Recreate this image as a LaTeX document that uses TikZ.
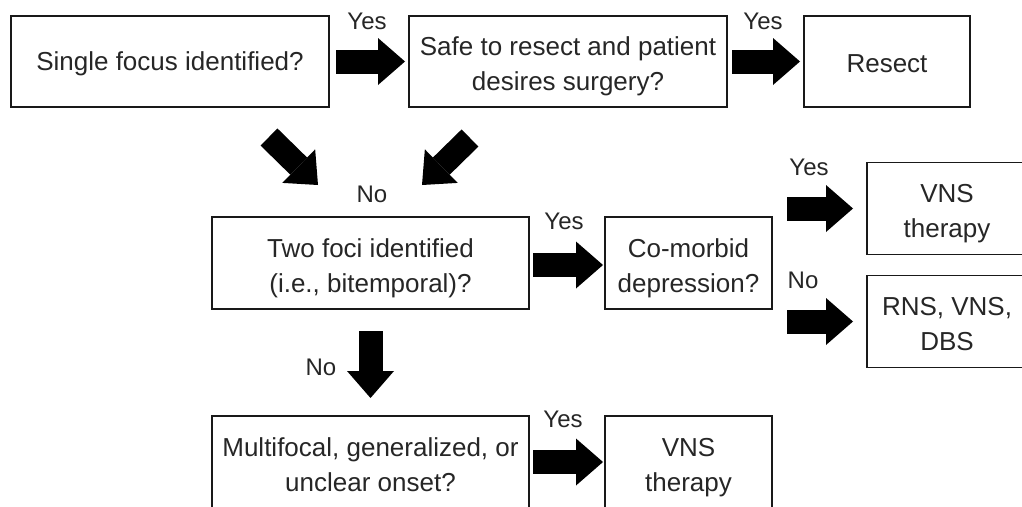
\documentclass[tikz,border=0pt]{standalone}
\usepackage{fontspec}
\setmainfont{Liberation Sans}
\usetikzlibrary{arrows.meta}
\begin{document}
\begin{tikzpicture}[x=1pt,y=-1pt,
  box/.style={draw=black!90, line width=1.8pt, outer sep=0pt, inner sep=0pt,
    align=center, font=\fontsize{26}{35}\selectfont, text=black!85},
  onel/.style={box, text height=23pt},
  twol/.style={box, text height=58pt, text depth=0pt},
  lbl/.style={font=\fontsize{24}{28}\selectfont, text=black!85, inner sep=0pt},
  bigarr/.style={black, line width=24pt,
    -{Triangle[length=27pt,width=47pt,line width=0pt]}}]
\useasboundingbox (0,0) rectangle (1022,506);
\clip (0,0) rectangle (1022,506);

% boxes
\node[onel, minimum width=318pt, minimum height=91pt] (b1) at (170,61.5) {Single focus identified?};
\node[twol, minimum width=318pt, minimum height=91pt] (b2) at (568,61.5) {Safe to resect and patient\\desires surgery?};
\node[onel, minimum width=166pt, minimum height=91pt] (b3) at (887,61.5) {Resect};
\node[twol, minimum width=317pt, minimum height=92pt] (b4) at (370.5,263) {Two foci identified\\(i.e., bitemporal)?};
\node[twol, minimum width=167pt, minimum height=92pt] (b5) at (688.5,263) {Co-morbid\\depression?};
\node[twol, minimum width=160pt, minimum height=92pt] (b6) at (947,208.5) {VNS\\therapy};
\node[twol, minimum width=160pt, minimum height=92pt] (b7) at (947,321.5) {RNS, VNS,\\DBS};
\node[twol, minimum width=317pt, minimum height=92pt] (b8) at (370.5,462) {Multifocal, generalized, or\\unclear onset?};
\node[twol, minimum width=167pt, minimum height=92pt] (b9) at (688.5,462) {VNS\\therapy};

% free arrow ends
\coordinate (d1s) at (269,137);
\coordinate (d1e) at (318,185);
\coordinate (d2s) at (470,138);
\coordinate (d2e) at (422,185);
\coordinate (t6) at (787,208.5);
\coordinate (t7) at (787,321.5);

% arrows
\draw[bigarr, shorten <=7pt, shorten >=4pt] (b1.east) -- (b2.west);
\draw[bigarr, shorten <=5pt, shorten >=4pt] (b2.east) -- (b3.west);
\draw[bigarr] (d1s) -- (d1e);
\draw[bigarr] (d2s) -- (d2e);
\draw[bigarr, shorten <=4pt, shorten >=2pt] ([yshift=-2pt]b4.east) -- ([yshift=-2pt]b5.west);
\draw[bigarr, shorten >=14pt] (t6) -- (b6.west);
\draw[bigarr, shorten >=14pt] (t7) -- (b7.west);
\draw[bigarr, shorten <=22pt, shorten >=18pt] (b4.south) -- (b8.north);
\draw[bigarr, shorten <=4pt, shorten >=2pt] (b8.east) -- (b9.west);

% labels
\node[lbl] (y1) at (367,21) {Yes};
\node[lbl] (y2) at (763,21) {Yes};
\node[lbl] (n1) at (372,194) {No};
\node[lbl] (y3) at (564,221) {Yes};
\node[lbl] (y4) at (809,167) {Yes};
\node[lbl] (n2) at (803,280) {No};
\node[lbl] (n3) at (321,367) {No};
\node[lbl] (y5) at (563,419) {Yes};
\end{tikzpicture}
\end{document}
